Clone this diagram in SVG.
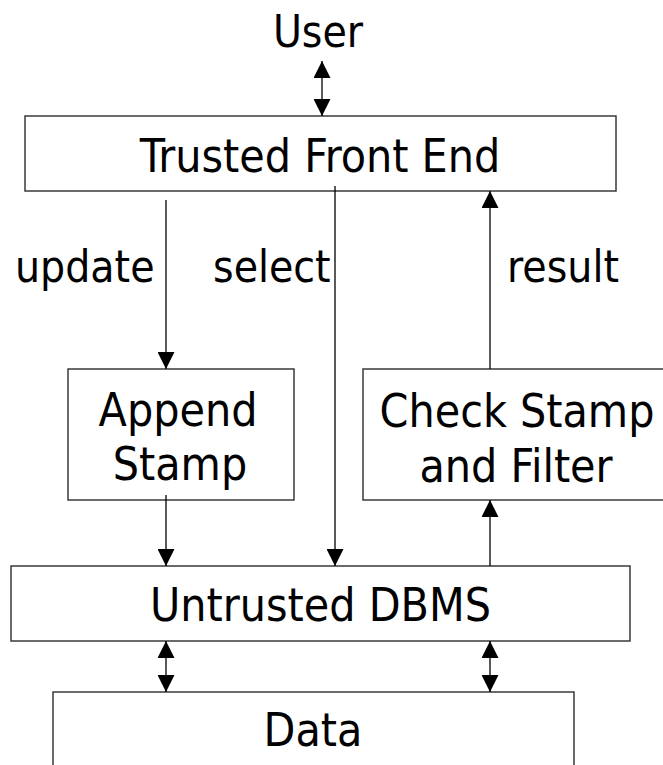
<svg xmlns="http://www.w3.org/2000/svg" width="663" height="765" viewBox="0 0 663 765">
  <style>
    .box { fill: #ffffff; stroke: #3a3a3a; stroke-width: 1.5; }
    .t { font-family: "DejaVu Sans Condensed", "DejaVu Sans", sans-serif; fill: #000000; font-size: 46px; text-anchor: middle; }
    .lbl { font-family: "DejaVu Sans Condensed", "DejaVu Sans", sans-serif; fill: #000000; font-size: 44px; }
    .c { stroke: #000000; stroke-width: 1.3; fill: none; }
  </style>
  <defs>
    <marker id="ah" viewBox="0 0 17 17" refX="17" refY="8.5" markerWidth="17" markerHeight="17" markerUnits="userSpaceOnUse" orient="auto-start-reverse">
      <path d="M0,0 L17,8.5 L0,17 z" fill="#000000"/>
    </marker>
  </defs>
  <rect width="663" height="765" fill="#ffffff"/>

  <g id="user">
    <text class="lbl" x="318" y="47" text-anchor="middle">User</text>
  </g>

  <g id="trusted-front-end">
    <rect class="box" x="25" y="116" width="591" height="75"/>
    <text class="t" x="320" y="172">Trusted Front End</text>
  </g>

  <g id="append-stamp">
    <rect class="box" x="68" y="369" width="226" height="131"/>
    <text class="t" x="178" y="426">Append</text>
    <text class="t" x="180" y="480">Stamp</text>
  </g>

  <g id="check-stamp">
    <rect class="box" x="363" y="369" width="310" height="131"/>
    <text class="t" x="517" y="427">Check Stamp</text>
    <text class="t" x="516" y="482">and Filter</text>
  </g>

  <g id="untrusted-dbms">
    <rect class="box" x="11" y="566" width="619" height="75"/>
    <text class="t" x="320.5" y="621">Untrusted DBMS</text>
  </g>

  <g id="data">
    <rect class="box" x="53" y="692" width="521" height="90"/>
    <text class="t" x="313" y="746">Data</text>
  </g>

  <g id="connectors">
    <line class="c" x1="322" y1="61" x2="322" y2="116" marker-start="url(#ah)" marker-end="url(#ah)"/>
    <line class="c" x1="166" y1="200" x2="166" y2="369" marker-end="url(#ah)"/>
    <line class="c" x1="335" y1="186" x2="335" y2="566" marker-end="url(#ah)"/>
    <line class="c" x1="490" y1="369" x2="490" y2="191" marker-end="url(#ah)"/>
    <line class="c" x1="166" y1="495" x2="166" y2="566" marker-end="url(#ah)"/>
    <line class="c" x1="490" y1="566" x2="490" y2="500" marker-end="url(#ah)"/>
    <line class="c" x1="166" y1="641" x2="166" y2="692" marker-start="url(#ah)" marker-end="url(#ah)"/>
    <line class="c" x1="490" y1="641" x2="490" y2="692" marker-start="url(#ah)" marker-end="url(#ah)"/>
    <text class="lbl" x="15" y="282">update</text>
    <text class="lbl" x="213" y="282">select</text>
    <text class="lbl" x="507" y="282">result</text>
  </g>
</svg>
